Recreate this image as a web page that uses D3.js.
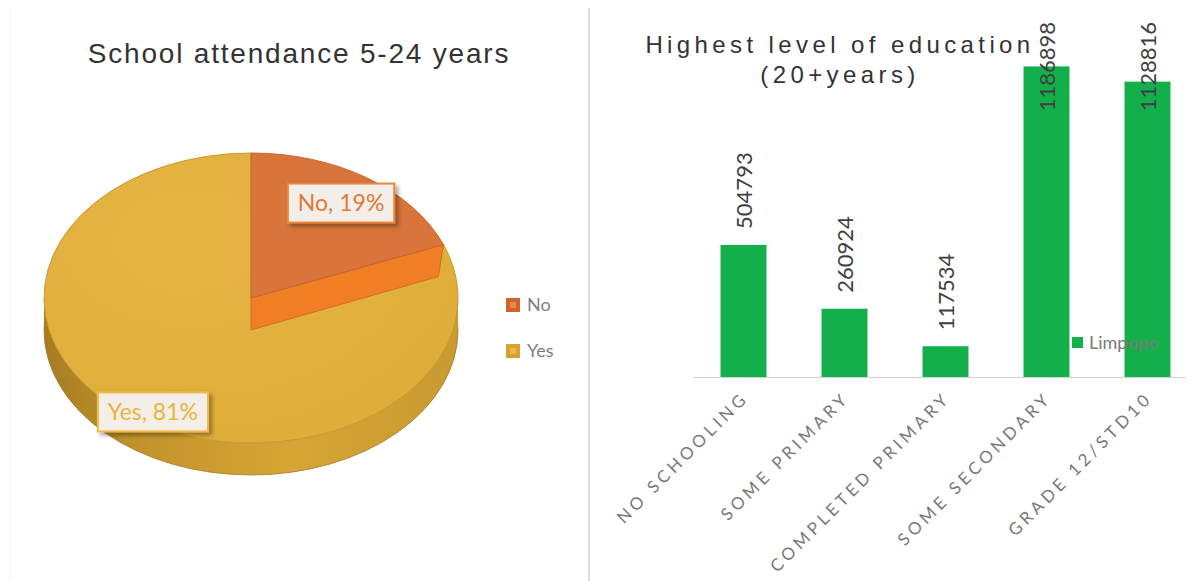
<!DOCTYPE html>
<html>
<head>
<meta charset="utf-8">
<script src="https://cdn.jsdelivr.net/npm/d3@7/dist/d3.min.js"></script>
<style>
  html, body { margin: 0; padding: 0; background: #ffffff; }
  svg { display: block; }
</style>
</head>
<body>
<svg id="chart" width="1193" height="581"></svg>
<script>
// School attendance (pie)
const pieTitle = "School attendance 5-24 years";
const pieCategories = ["No", "Yes"];
const pieValues = [19, 81];

// Highest level of education (bars)
const barTitleLines = ["Highest level of education", "(20+years)"];
const eduCategories = ["NO SCHOOLING", "SOME PRIMARY", "COMPLETED PRIMARY", "SOME SECONDARY", "GRADE 12/STD10"];
const eduValues = [504793, 260924, 117534, 1186898, 1128816];
const seriesName = "Limpopo";

const svg = d3.select("#chart");
const defs = svg.append("defs");

// soft drop shadow for the data-label boxes
const sh = defs.append("filter").attr("id", "lblShadow")
  .attr("x", "-20%").attr("y", "-30%").attr("width", "150%").attr("height", "180%");
sh.append("feDropShadow").attr("dx", 3).attr("dy", 3).attr("stdDeviation", 2)
  .attr("flood-color", "#000").attr("flood-opacity", 0.35);

// panel separators
svg.append("line").attr("x1", 10).attr("x2", 10).attr("y1", 8).attr("y2", 581)
  .attr("stroke", "#eeeeee").attr("stroke-width", 1);
svg.append("line").attr("x1", 589).attr("x2", 589).attr("y1", 8).attr("y2", 581)
  .attr("stroke", "#dcdcdc").attr("stroke-width", 2);

/* ---------------- left panel: 3D-style pie ---------------- */
svg.append("text")
  .attr("x", 299).attr("y", 63)
  .attr("text-anchor", "middle")
  .style("font-family", "'Liberation Sans', Arial, sans-serif")
  .style("font-size", "28px")
  .style("letter-spacing", "1.8px")
  .attr("fill", "#333333")
  .text(pieTitle);

const cx = 251, cy = 298, rx = 207, ry = 145, depth = 32;
const squash = ry / rx;

const topColor = { No: "#D9743A", Yes: "#E2B03C" };
const wallColor = "#EF7E24";

const sideGrad = defs.append("linearGradient").attr("id", "sideGrad")
  .attr("x1", "0%").attr("x2", "100%").attr("y1", "0%").attr("y2", "0%");
sideGrad.append("stop").attr("offset", "0%").attr("stop-color", "#A77C22");
sideGrad.append("stop").attr("offset", "25%").attr("stop-color", "#C4952D");
sideGrad.append("stop").attr("offset", "60%").attr("stop-color", "#D6A535");
sideGrad.append("stop").attr("offset", "100%").attr("stop-color", "#C89A30");

const topGrad = defs.append("radialGradient").attr("id", "topGrad")
  .attr("cx", "35%").attr("cy", "30%").attr("r", "80%");
topGrad.append("stop").attr("offset", "0%").attr("stop-color", "#E6B544");
topGrad.append("stop").attr("offset", "100%").attr("stop-color", "#DEAC38");

const pie = d3.pie().sort(null).value(d => d.value);
const slices = pie(pieCategories.map((c, i) => ({ name: c, value: pieValues[i] })));
const arc = d3.arc().innerRadius(0).outerRadius(rx);

const pieG = svg.append("g");

// side band of the disc (front half)
const sideG = pieG.append("g");
sideG.append("ellipse")
  .attr("cx", cx).attr("cy", cy + depth).attr("rx", rx).attr("ry", ry)
  .attr("fill", "url(#sideGrad)").attr("stroke", "#A27A24").attr("stroke-width", 0.8);
sideG.append("rect")
  .attr("x", cx - rx).attr("y", cy).attr("width", 2 * rx).attr("height", depth)
  .attr("fill", "url(#sideGrad)");

// point on the top ellipse for a pie angle (0 = 12 o'clock, clockwise)
const onRim = a => [cx + rx * Math.sin(a), cy - ry * Math.cos(a)];

// top faces: Yes first, then the raised wall and face of No
const topG = pieG.append("g").attr("transform", `translate(${cx},${cy}) scale(1,${squash})`);
const yesSlice = slices.find(s => s.data.name === "Yes");
const noSlice = slices.find(s => s.data.name === "No");

topG.append("path").attr("d", arc(yesSlice))
  .attr("fill", "url(#topGrad)").attr("stroke", "#C99A31").attr("stroke-width", 1)
  .attr("vector-effect", "non-scaling-stroke");

const rimEnd = onRim(noSlice.endAngle);
pieG.append("path")
  .attr("d", d3.line()([[cx, cy], rimEnd, [rimEnd[0] - 5, rimEnd[1] + depth], [cx, cy + depth]]) + "Z")
  .attr("fill", wallColor).attr("stroke", "#D0661E").attr("stroke-width", 0.8);

const topG2 = pieG.append("g").attr("transform", `translate(${cx},${cy}) scale(1,${squash})`);
topG2.append("path").attr("d", arc(noSlice))
  .attr("fill", topColor.No).attr("stroke", "#C8662E").attr("stroke-width", 1)
  .attr("vector-effect", "non-scaling-stroke");

// data labels in boxes
const labelFont = "Lato, 'Open Sans', sans-serif";
const labelColors = { No: { text: "#E07A38", stroke: "#E8843C" }, Yes: { text: "#EBB43C", stroke: "#EFBA45" } };
slices.forEach(s => {
  const mid = (s.startAngle + s.endAngle) / 2;
  const f = 0.8;
  const lx = cx + rx * f * Math.sin(mid) - (Math.cos(mid) < 0 ? 5 : 3);
  const ly = cy - ry * f * Math.cos(mid) + (Math.cos(mid) < 0 ? 18 : 1);
  const g = svg.append("g");
  const txt = `${s.data.name}, ${s.data.value}%`;
  const t = g.append("text")
    .attr("x", lx).attr("y", ly + 8)
    .attr("text-anchor", "middle")
    .style("font-family", labelFont).style("font-size", "23px")
    .attr("fill", labelColors[s.data.name].text)
    .text(txt);
  const w = t.node().getComputedTextLength() + 20;
  g.insert("rect", "text")
    .attr("x", lx - w / 2).attr("y", ly - 19.5).attr("width", w).attr("height", 39)
    .attr("fill", "#F3EEE8").attr("stroke", labelColors[s.data.name].stroke).attr("stroke-width", 2)
    .attr("filter", "url(#lblShadow)");
});

// legend
const legendColors = { No: "#D5612A", Yes: "#D6A42D" };
const legendInner = { No: "#E58A4E", Yes: "#E6B84A" };
pieCategories.forEach((c, i) => {
  const y0 = 298 + i * 46;
  svg.append("rect").attr("x", 506).attr("y", y0).attr("width", 14).attr("height", 14)
    .attr("fill", legendColors[c]);
  svg.append("rect").attr("x", 510).attr("y", y0 + 4).attr("width", 6).attr("height", 6)
    .attr("fill", legendInner[c]);
  svg.append("text").attr("x", 527).attr("y", y0 + 13)
    .style("font-family", labelFont).style("font-size", "18px")
    .attr("fill", "#808080").text(c);
});

/* ---------------- right panel: bar chart ---------------- */
const titleG = svg.append("g");
barTitleLines.forEach((line, i) => {
  titleG.append("text")
    .attr("x", 840).attr("y", 53 + i * 30)
    .attr("text-anchor", "middle")
    .style("font-family", "'Liberation Sans', Arial, sans-serif")
    .style("font-size", "24px")
    .style("letter-spacing", "4.4px")
    .attr("fill", "#333333")
    .text(line);
});

const x = d3.scaleBand().domain(eduCategories).range([693, 1198])
  .paddingInner(0.545).paddingOuter(0.2725);
const y = d3.scaleLinear().domain([0, 1200000]).range([377, 63]);

const barG = svg.append("g");
barG.selectAll("rect").data(eduValues).join("rect")
  .attr("x", (d, i) => x(eduCategories[i]))
  .attr("y", d => y(d))
  .attr("width", x.bandwidth())
  .attr("height", d => y(0) - y(d))
  .attr("fill", "#12AF4B");

// category axis
const xAxis = svg.append("g").attr("transform", `translate(0,${y(0)})`)
  .call(d3.axisBottom(x).tickSize(0).tickFormat(""));
xAxis.select(".domain").attr("stroke", "#d4d4d4").attr("stroke-width", 1.2)
  .attr("d", "M693,0.5H1186");

eduCategories.forEach(c => {
  const px = x(c) + x.bandwidth() / 2 + 6;
  svg.append("text")
    .attr("transform", `translate(${px},${y(0) + 22}) rotate(-45)`)
    .attr("text-anchor", "end")
    .style("font-family", labelFont).style("font-size", "17px")
    .style("letter-spacing", "3.9px")
    .attr("fill", "#7a7a7a")
    .text(c);
});

// value labels, rotated; kept inside the plot when the bar is tall
const labelTop = 22;
eduValues.forEach((v, i) => {
  const px = x(eduCategories[i]) + x.bandwidth() / 2 + 8;
  const t = svg.append("text")
    .style("font-family", labelFont).style("font-size", "22px")
    .attr("fill", "#404040")
    .text(String(v));
  const len = t.node().getComputedTextLength();
  const base = Math.max(y(v) - 16, labelTop + len);
  t.attr("transform", `translate(${px},${base}) rotate(-90)`);
});

// series legend
svg.append("rect").attr("x", 1072).attr("y", 337).attr("width", 11).attr("height", 11).attr("fill", "#12AF4B");
svg.append("text").attr("x", 1089).attr("y", 349)
  .style("font-family", labelFont).style("font-size", "18px")
  .attr("fill", "#7a7a7a").text(seriesName);
</script>
</body>
</html>
